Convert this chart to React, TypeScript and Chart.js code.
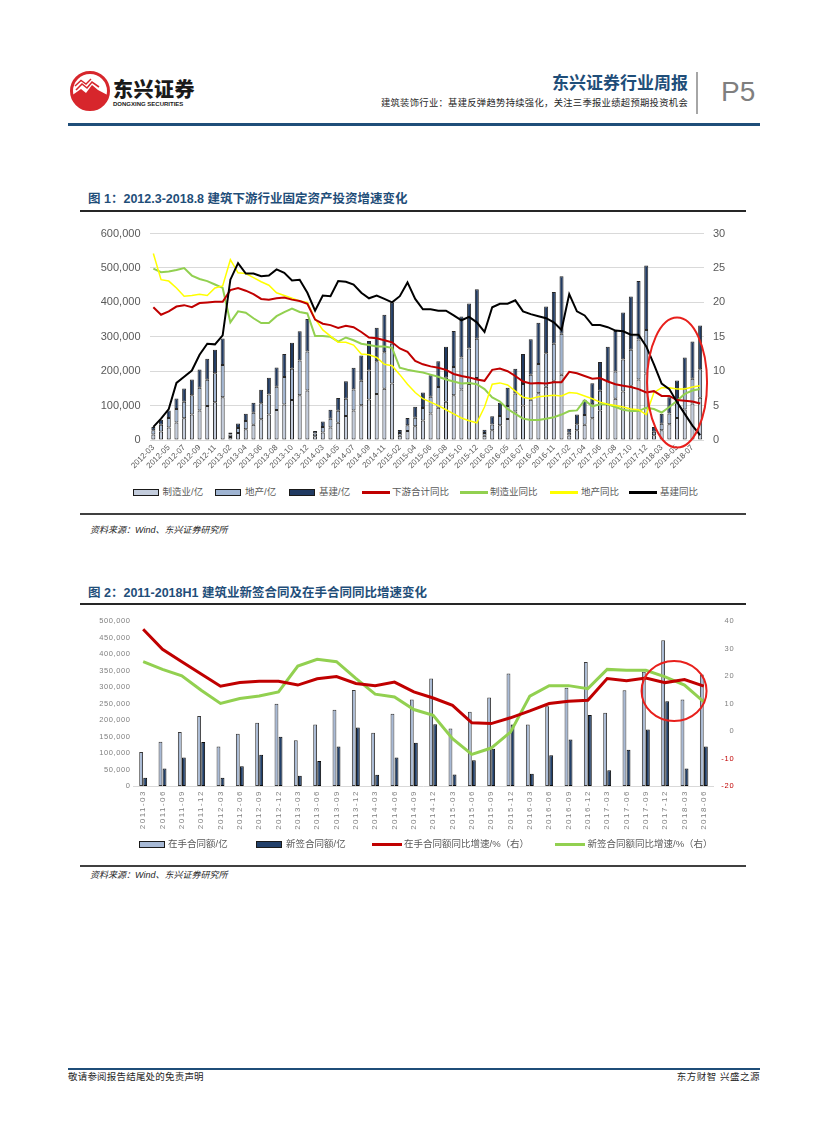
import React, { useEffect, useRef } from 'react';
import { Chart, registerables } from 'chart.js';

Chart.register(...registerables);

const LATIN = '"Liberation Sans", Arial, "Noto Sans CJK SC", sans-serif';
const CJK = '"Liberation Sans", "Noto Sans CJK SC", sans-serif';

// ---------------- Figure 1 data ----------------
const fig1Months = [
  '2012-03', '2012-04', '2012-05', '2012-06', '2012-07', '2012-08', '2012-09', '2012-10', '2012-11', '2012-12',
  '2013-02', '2013-03', '2013-04', '2013-05', '2013-06', '2013-07', '2013-08', '2013-09', '2013-10', '2013-11', '2013-12',
  '2014-02', '2014-03', '2014-04', '2014-05', '2014-06', '2014-07', '2014-08', '2014-09', '2014-10', '2014-11', '2014-12',
  '2015-02', '2015-03', '2015-04', '2015-05', '2015-06', '2015-07', '2015-08', '2015-09', '2015-10', '2015-11', '2015-12',
  '2016-02', '2016-03', '2016-04', '2016-05', '2016-06', '2016-07', '2016-08', '2016-09', '2016-10', '2016-11', '2016-12',
  '2017-02', '2017-03', '2017-04', '2017-05', '2017-06', '2017-07', '2017-08', '2017-09', '2017-10', '2017-11', '2017-12',
  '2018-02', '2018-03', '2018-04', '2018-05', '2018-06', '2018-07', '2018-08',
];

const fig1Manufacturing = [
  16000, 25000, 36000, 51000, 63000, 74000, 86000, 99000, 110000, 124000,
  9000, 20000, 31000, 44000, 60000, 74000, 87000, 103000, 116000, 130000, 144000,
  11000, 22000, 36000, 50000, 70000, 86000, 101000, 118000, 134000, 149000, 164000,
  12000, 26000, 40000, 57000, 77000, 94000, 111000, 130000, 147000, 163000, 180000,
  12000, 28000, 43000, 61000, 83000, 100000, 117000, 136000, 155000, 172000, 190000,
  13000, 28000, 44000, 63000, 86000, 103000, 120000, 141000, 158000, 176000, 193000,
  14000, 28000, 46000, 64000, 89000, 106000, 123000,
];
const fig1RealEstate = [
  12000, 19000, 28000, 39000, 48000, 56000, 66000, 76000, 84000, 94000,
  7000, 15000, 24000, 35000, 47000, 58000, 68000, 80000, 91000, 101000, 113000,
  8000, 16000, 26000, 35000, 50000, 61000, 71000, 84000, 95000, 106000, 116000,
  8000, 17000, 25000, 36000, 49000, 60000, 70000, 82000, 93000, 103000, 114000,
  8000, 17000, 27000, 38000, 52000, 63000, 73000, 85000, 97000, 108000, 119000,
  8000, 18000, 29000, 41000, 57000, 68000, 79000, 93000, 104000, 116000, 127000,
  10000, 19000, 31000, 43000, 60000, 72000, 83000,
];
const fig1Infra = [
  10000, 15000, 22000, 31000, 39000, 46000, 53000, 61000, 68000, 77000,
  6000, 13000, 21000, 29000, 39000, 49000, 56000, 67000, 76000, 85000, 95000,
  7000, 16000, 26000, 37000, 51000, 63000, 74000, 86000, 97000, 109000, 120000,
  9000, 21000, 32000, 45000, 62000, 75000, 90000, 105000, 119000, 131000, 144000,
  10000, 24000, 38000, 53000, 72000, 87000, 103000, 120000, 136000, 150000, 167000,
  12000, 28000, 44000, 61000, 84000, 100000, 118000, 137000, 155000, 170000, 187000,
  14000, 29000, 47000, 66000, 91000, 108000, 127000,
];

const fig1TotalYoY = [
  19.3, 18.2, 18.7, 19.4, 19.6, 19.3, 19.9, 20.0, 20.1, 20.1,
  21.8, 22.1, 21.7, 21.2, 20.5, 20.4, 20.6, 20.7, 20.4, 20.2, 19.8,
  17.5, 16.9, 16.7, 16.3, 16.6, 16.4, 15.7, 14.9, 14.8, 14.5, 14.2,
  13.3, 12.8, 11.5, 11.0, 10.7, 10.5, 10.2, 9.6, 9.3, 9.1, 8.8,
  8.6, 10.2, 10.4, 10.0, 9.3, 8.5, 8.2, 8.3, 8.2, 8.4, 8.4,
  9.9, 9.7, 9.3, 8.9, 9.0, 8.5, 8.1, 7.9, 7.7, 7.4, 6.9,
  7.1, 6.4, 6.4, 5.8, 5.7, 5.6, 5.3,
];
const fig1ManuYoY = [
  24.9, 24.4, 24.5, 24.7, 25.0, 23.9, 23.4, 23.1, 22.6, 22.1,
  17.1, 18.7, 18.5, 17.7, 17.0, 17.0, 18.0, 18.6, 19.1, 18.6, 18.4,
  15.1, 15.1, 15.0, 14.3, 14.9, 14.5, 14.0, 13.8, 13.6, 13.6, 13.4,
  10.5, 10.2, 10.0, 9.8, 9.5, 9.2, 8.8, 8.5, 8.2, 8.3, 8.1,
  7.4, 6.2, 5.6, 4.5, 3.8, 3.1, 2.9, 2.9, 3.1, 3.3, 3.7,
  4.2, 4.3, 5.8, 4.9, 5.2, 5.2, 4.8, 4.4, 4.2, 4.2, 4.7,
  4.5, 4.0, 4.8, 5.7, 6.7, 7.2, 7.4,
];
const fig1RealEstateYoY = [
  27.1, 23.3, 23.1, 22.1, 20.9, 21.0, 21.2, 21.0, 22.1, 22.4,
  26.2, 24.3, 24.2, 23.6, 23.0, 22.5, 21.4, 21.0, 20.6, 20.2, 20.0,
  17.6, 16.0, 15.1, 14.2, 14.2, 13.8, 12.5, 12.4, 12.0, 11.0, 10.8,
  9.5, 8.1, 6.9, 6.0, 5.5, 5.0, 4.4, 3.8, 3.2, 2.8, 2.5,
  4.8, 8.1, 8.3, 8.0, 7.1, 6.2, 6.0, 6.3, 6.4, 6.5, 6.4,
  6.9, 6.8, 6.4, 6.0, 5.5, 5.2, 5.0, 4.8, 4.5, 4.4, 3.7,
  6.9, 7.6, 7.6, 7.4, 7.4, 7.7, 7.9,
];
const fig1InfraYoY = [
  1.9, 3.1, 4.5, 8.3, 9.2, 10.1, 12.4, 14.0, 13.9, 15.2,
  23.3, 25.7, 24.2, 24.2, 23.8, 23.9, 24.8, 24.3, 23.2, 23.3, 21.4,
  18.8, 21.0, 20.9, 23.1, 23.0, 22.6, 21.4, 20.6, 21.0, 20.5, 20.0,
  20.9, 22.9, 20.5, 19.0, 19.0, 18.8, 18.8, 18.1, 17.4, 17.9, 17.1,
  15.7, 19.3, 19.8, 19.8, 20.3, 18.7, 18.3, 18.0, 17.7, 17.1, 16.0,
  21.2, 18.7, 18.1, 16.7, 16.7, 16.4, 15.9, 15.8, 15.3, 15.3, 13.6,
  11.0, 8.2, 7.4, 5.5, 3.8, 2.1, 0.7,
];
const fig1LeftAxis = [0, 600000, 100000];
const fig1RightAxis = [0, 30, 5];

// ---------------- Figure 2 data ----------------
const fig2Quarters = [
  '2011-03', '2011-06', '2011-09', '2011-12', '2012-03', '2012-06', '2012-09', '2012-12',
  '2013-03', '2013-06', '2013-09', '2013-12', '2014-03', '2014-06', '2014-09', '2014-12',
  '2015-03', '2015-06', '2015-09', '2015-12', '2016-03', '2016-06', '2016-09', '2016-12',
  '2017-03', '2017-06', '2017-09', '2017-12', '2018-03', '2018-06',
];
const fig2Backlog = [
  103000, 134000, 164000, 212000, 120000, 158000, 192000, 249000,
  139000, 186000, 231000, 291000, 161000, 219000, 262000, 326000,
  174000, 225000, 268000, 341000, 186000, 242000, 298000, 376000,
  222000, 290000, 346000, 442000, 262000, 338000,
];
const fig2NewOrders = [
  25000, 53000, 86000, 133000, 25000, 60000, 95000, 149000,
  31000, 76000, 120000, 177000, 34000, 86000, 131000, 187000,
  35000, 78000, 113000, 186000, 37000, 93000, 141000, 215000,
  48000, 110000, 171000, 257000, 53000, 120000,
];
const fig2BacklogYoY = [
  37.0, 29.7, 25.2, 20.7, 16.3, 17.6, 18.1, 18.1,
  16.7, 19.0, 19.8, 17.3, 16.5, 17.8, 14.2, 12.0,
  9.3, 3.0, 2.7, 4.8, 7.3, 10.0, 10.8, 11.2,
  19.1, 18.3, 19.3, 17.6, 18.7, 16.3,
];
const fig2NewOrdersYoY = [
  25.2, 22.4, 20.1, 14.8, 10.0, 11.8, 12.7, 14.2,
  23.6, 26.1, 25.2, 19.1, 13.4, 12.4, 7.8, 5.7,
  -2.8, -8.5, -6.2, -0.4, 12.7, 16.5, 16.5, 15.4,
  22.4, 22.1, 22.1, 19.7, 16.7, 10.6,
];
const fig2LeftAxis = [0, 500000, 50000];
const fig2RightAxis = [-20, 40, 10];

// ---------------- helpers ----------------
const fmt = (v: any) => Number(v).toLocaleString('en-US');

function ellipsePlugin(id: string, xValue: number, yValue: number, rx: number, ry: number) {
  return {
    id,
    afterDatasetsDraw(chart: any) {
      const x = chart.scales.x.getPixelForValue(xValue);
      const y = chart.scales.y.getPixelForValue(yValue);
      const ctx = chart.ctx;
      ctx.save();
      ctx.beginPath();
      ctx.ellipse(x, y, rx, ry, 0, 0, Math.PI * 2);
      ctx.strokeStyle = '#e8201c';
      ctx.lineWidth = 2;
      ctx.stroke();
      ctx.restore();
    },
  };
}

function letterSpacingPlugin(spec: Record<string, string>) {
  return {
    id: 'letterSpacing',
    afterLayout(chart: any) {
      Object.keys(spec).forEach((id) => {
        const s = chart.scales[id];
        if (!s || s.__ls) return;
        const orig = s.drawLabels.bind(s);
        s.drawLabels = (area: any) => {
          const ctx = chart.ctx;
          ctx.save();
          ctx.letterSpacing = spec[id];
          orig(area);
          ctx.restore();
        };
        s.__ls = true;
      });
    },
  };
}

function Fig1() {
  const ref = useRef<HTMLCanvasElement>(null);
  useEffect(() => {
    const barCommon = {
      type: 'bar' as const,
      yAxisID: 'y',
      stack: 's',
      order: 10,
      borderColor: '#262626',
      borderWidth: 1,
      borderSkipped: false,
      barPercentage: 0.9,
      categoryPercentage: 0.58,
    };
    const lineCommon = {
      type: 'line' as const,
      yAxisID: 'y1',
      pointRadius: 0,
      tension: 0,
      fill: false,
    };
    const chart = new Chart(ref.current!, {
      type: 'bar',
      data: {
        labels: fig1Months,
        datasets: [
          { ...lineCommon, label: '基建同比', data: fig1InfraYoY, borderColor: '#000000', borderWidth: 2, order: 0 },
          { ...lineCommon, label: '下游合计同比', data: fig1TotalYoY, borderColor: '#c00000', borderWidth: 2, order: 1 },
          { ...lineCommon, label: '地产同比', data: fig1RealEstateYoY, borderColor: '#ffff00', borderWidth: 1.5, order: 2 },
          { ...lineCommon, label: '制造业同比', data: fig1ManuYoY, borderColor: '#92d050', borderWidth: 2, order: 3 },
          { ...barCommon, label: '制造业/亿', data: fig1Manufacturing, backgroundColor: '#c3ccdc' },
          { ...barCommon, label: '地产/亿', data: fig1RealEstate, backgroundColor: '#9fb4d2' },
          { ...barCommon, label: '基建/亿', data: fig1Infra, backgroundColor: '#203a62' },
        ] as any,
      },
      options: {
        responsive: false,
        animation: false,
        layout: { padding: { top: 12, left: 0, right: 6, bottom: 0 } },
        plugins: { legend: { display: false }, tooltip: { enabled: false } },
        scales: {
          x: {
            stacked: true,
            grid: { display: false, drawTicks: false },
            border: { display: false },
            ticks: {
              autoSkip: false,
              maxRotation: 45,
              minRotation: 45,
              padding: 3,
              color: '#595959',
              font: { family: LATIN, size: 8 },
              callback: (_v: any, i: number) => (i % 2 === 0 ? fig1Months[i] : ''),
            },
            afterFit: (s: any) => { s.height = 40; },
          },
          y: {
            stacked: true,
            position: 'left',
            min: fig1LeftAxis[0],
            max: fig1LeftAxis[1],
            grid: { color: '#d9d9d9', drawTicks: false },
            border: { display: false },
            ticks: {
              stepSize: fig1LeftAxis[2],
              padding: 9,
              color: '#595959',
              font: { family: LATIN, size: 11 },
              callback: fmt,
            },
            afterFit: (s: any) => { s.width = 69.5; },
          },
          y1: {
            position: 'right',
            min: fig1RightAxis[0],
            max: fig1RightAxis[1],
            grid: { display: false, drawTicks: false },
            border: { display: false },
            ticks: {
              stepSize: fig1RightAxis[2],
              padding: 9,
              color: '#595959',
              font: { family: LATIN, size: 11 },
            },
            afterFit: (s: any) => { s.width = 40; },
          },
        },
      } as any,
      plugins: [ellipsePlugin('ell1', 68, 167000, 30, 65)],
    });
    return () => chart.destroy();
  }, []);
  return (
    <canvas
      ref={ref}
      width={670}
      height={262}
      style={{ position: 'absolute', left: 80, top: 218, width: 670, height: 262 }}
    />
  );
}

function Fig2() {
  const ref = useRef<HTMLCanvasElement>(null);
  useEffect(() => {
    const barCommon = {
      type: 'bar' as const,
      yAxisID: 'y',
      order: 10,
      borderWidth: 1,
      borderSkipped: false,
      barPercentage: 0.95,
      categoryPercentage: 0.42,
    };
    const lineCommon = {
      type: 'line' as const,
      yAxisID: 'y1',
      pointRadius: 0,
      tension: 0,
      fill: false,
      borderWidth: 3,
    };
    const chart = new Chart(ref.current!, {
      type: 'bar',
      data: {
        labels: fig2Quarters,
        datasets: [
          { ...lineCommon, label: '在手合同额同比增速/%（右）', data: fig2BacklogYoY, borderColor: '#c00000', order: 0 },
          { ...lineCommon, label: '新签合同额同比增速/%（右）', data: fig2NewOrdersYoY, borderColor: '#92d050', order: 1 },
          { ...barCommon, label: '在手合同额/亿', data: fig2Backlog, backgroundColor: '#a7b9d5', borderColor: '#3a3a3a' },
          { ...barCommon, label: '新签合同额/亿', data: fig2NewOrders, backgroundColor: '#22406a', borderColor: '#0d0d0d' },
        ] as any,
      },
      options: {
        responsive: false,
        animation: false,
        layout: { padding: { top: 10, left: 0, right: 15.5, bottom: 0 } },
        plugins: { legend: { display: false }, tooltip: { enabled: false } },
        scales: {
          x: {
            grid: { display: false, drawTicks: false },
            border: { display: true, color: '#d9d9d9', width: 1 },
            ticks: {
              autoSkip: false,
              maxRotation: 90,
              minRotation: 90,
              padding: 4,
              color: '#7f7f7f',
              font: { family: LATIN, size: 8 },
            },
            afterFit: (s: any) => { s.height = 53; },
          },
          y: {
            position: 'left',
            min: fig2LeftAxis[0],
            max: fig2LeftAxis[1],
            grid: { display: false, drawTicks: false },
            border: { display: false },
            ticks: {
              stepSize: fig2LeftAxis[2],
              padding: 3,
              color: '#7f7f7f',
              font: { family: LATIN, size: 7.5 },
              callback: fmt,
            },
            afterFit: (s: any) => { s.width = 53.5; },
          },
          y1: {
            position: 'right',
            min: fig2RightAxis[0],
            max: fig2RightAxis[1],
            grid: { display: false, drawTicks: false },
            border: { display: false },
            ticks: {
              stepSize: fig2RightAxis[2],
              crossAlign: 'far',
              color: (c: any) => (c.tick && c.tick.value < 0 ? '#c00000' : '#7f7f7f'),
              font: { family: LATIN, size: 7.5 },
            },
            afterFit: (s: any) => { s.width = 21; },
          },
        },
      } as any,
      plugins: [
        letterSpacingPlugin({ x: '1.5px', y: '0.6px', y1: '0.8px' }),
        ellipsePlugin('ell2', 27.46, 288000, 32.5, 30),
      ],
    });
    return () => chart.destroy();
  }, []);
  return (
    <canvas
      ref={ref}
      width={670}
      height={228}
      style={{ position: 'absolute', left: 80, top: 611, width: 670, height: 228 }}
    />
  );
}

const txt = (
  left: number,
  centerY: number,
  size: number,
  content: string,
  extra: React.CSSProperties = {},
  right?: number,
) => (
  <div
    style={{
      position: 'absolute',
      ...(right !== undefined ? { right: 827 - right } : { left }),
      top: centerY - size / 2,
      fontSize: size,
      lineHeight: `${size}px`,
      whiteSpace: 'nowrap',
      fontFamily: CJK,
      ...extra,
    }}
  >
    {content}
  </div>
);

const rule = (left: number, top: number, width: number, height: number, color: string) => (
  <div style={{ position: 'absolute', left, top, width, height, background: color }} />
);

const legendBox = (left: number, cy: number, color: string) => (
  <div
    style={{
      position: 'absolute',
      left,
      top: cy - 3.5,
      width: 26,
      height: 7,
      boxSizing: 'border-box',
      background: color,
      border: '1px solid #1a1a1a',
    }}
  />
);
const legendLine = (left: number, width: number, cy: number, color: string) => (
  <div style={{ position: 'absolute', left, top: cy - 1.5, width, height: 3, background: color }} />
);

export default function App() {
  const legendText = { color: '#595959' };
  const source = { fontStyle: 'italic', color: '#262626' } as React.CSSProperties;
  return (
    <div
      style={{
        position: 'absolute',
        left: 0,
        top: 0,
        width: 827,
        height: 1122,
        background: '#ffffff',
        overflow: 'hidden',
        fontFamily: CJK,
      }}
    >
      {/* Header logo */}
      <svg width={44} height={44} style={{ position: 'absolute', left: 68, top: 70 }} viewBox="0 0 44 44">
        <circle cx={22} cy={21} r={18.5} fill="#ffffff" stroke="#d7262c" strokeWidth={3} />
        <path d="M4.5 25 L13 19 L18 23 L24 15 L30 20 L39.5 25 A18 18 0 0 1 4.5 25 Z" fill="#d7262c" />
        <path d="M8 20 L14 14 L19 18 L24 12 L31 17" stroke="#d7262c" strokeWidth={1.6} fill="none" />
        <path d="M7 16 L13 10.5 L18 14 L23 9" stroke="#d7262c" strokeWidth={1.4} fill="none" />
      </svg>
      {txt(113, 89, 20, '东兴证券', { fontWeight: 900, color: '#1a1a1a', letterSpacing: 0.5, fontFamily: '"Noto Sans CJK SC", sans-serif' })}
      {txt(113, 103.5, 6, 'DONGXING SECURITIES', { fontWeight: 700, color: '#1a1a1a', fontFamily: LATIN })}

      {txt(0, 81.5, 17, '东兴证券行业周报', { fontWeight: 700, color: '#1f4e79', fontFamily: '"Noto Sans CJK SC", sans-serif' }, 688)}
      {txt(0, 103.5, 9.3, '建筑装饰行业：基建反弹趋势持续强化，关注三季报业绩超预期投资机会', { color: '#262626', letterSpacing: 0.3 }, 688)}
      {rule(696, 72, 1.5, 42, '#a6a6a6')}
      <div
        style={{
          position: 'absolute',
          left: 721,
          top: 78,
          fontSize: 28,
          lineHeight: '28px',
          color: '#7f7f7f',
          fontFamily: LATIN,
        }}
      >
        P5
      </div>
      {rule(68, 123, 692, 2.5, '#1f4e79')}

      {/* Figure 1 */}
      {txt(88, 199, 12.5, '图 1：2012.3-2018.8 建筑下游行业固定资产投资增速变化', { fontWeight: 700, color: '#1f4e79' })}
      {rule(80, 210, 666, 1.5, '#262626')}
      <Fig1 />
      {legendBox(133, 492, '#c3ccdc')}
      {txt(162.5, 492, 9.5, '制造业/亿', legendText)}
      {legendBox(215, 492, '#9fb4d2')}
      {txt(245, 492, 9.5, '地产/亿', legendText)}
      {legendBox(289, 492, '#203a62')}
      {txt(319, 492, 9.5, '基建/亿', legendText)}
      {legendLine(361.5, 28.5, 492, '#c00000')}
      {txt(392, 492, 9.5, '下游合计同比', legendText)}
      {legendLine(460, 28, 492, '#92d050')}
      {txt(490, 492, 9.5, '制造业同比', legendText)}
      {legendLine(550, 28, 492, '#ffff00')}
      {txt(581, 492, 9.5, '地产同比', legendText)}
      {legendLine(629, 28, 492, '#000000')}
      {txt(660, 492, 9.5, '基建同比', legendText)}
      {rule(80, 513, 666, 2, '#404040')}
      {txt(90, 530, 9, '资料来源：Wind、东兴证券研究所', source)}

      {/* Figure 2 */}
      {txt(88, 593, 12.5, '图 2：2011-2018H1 建筑业新签合同及在手合同同比增速变化', { fontWeight: 700, color: '#1f4e79' })}
      {rule(80, 603, 666, 1.5, '#262626')}
      <Fig2 />
      {legendBox(139, 844, '#a7b9d5')}
      {txt(168, 844, 9.5, '在手合同额/亿', legendText)}
      {legendBox(256, 844, '#22406a')}
      {txt(286, 844, 9.5, '新签合同额/亿', legendText)}
      {legendLine(372, 30, 844, '#c00000')}
      {txt(404, 844, 9.5, '在手合同额同比增速/%（右）', legendText)}
      {legendLine(555, 30, 844, '#92d050')}
      {txt(587.5, 844, 9.5, '新签合同额同比增速/%（右）', legendText)}
      {rule(80, 864.5, 666, 2, '#404040')}
      {txt(90, 875, 9, '资料来源：Wind、东兴证券研究所', source)}

      {/* Footer */}
      {rule(68, 1068, 692, 1.5, '#1f4e79')}
      {txt(68, 1077, 9.5, '敬请参阅报告结尾处的免责声明', { color: '#262626', letterSpacing: 0.2 })}
      {txt(0, 1077, 9.5, '东方财智 兴盛之源', { color: '#262626', letterSpacing: 0.5 }, 760)}
    </div>
  );
}
